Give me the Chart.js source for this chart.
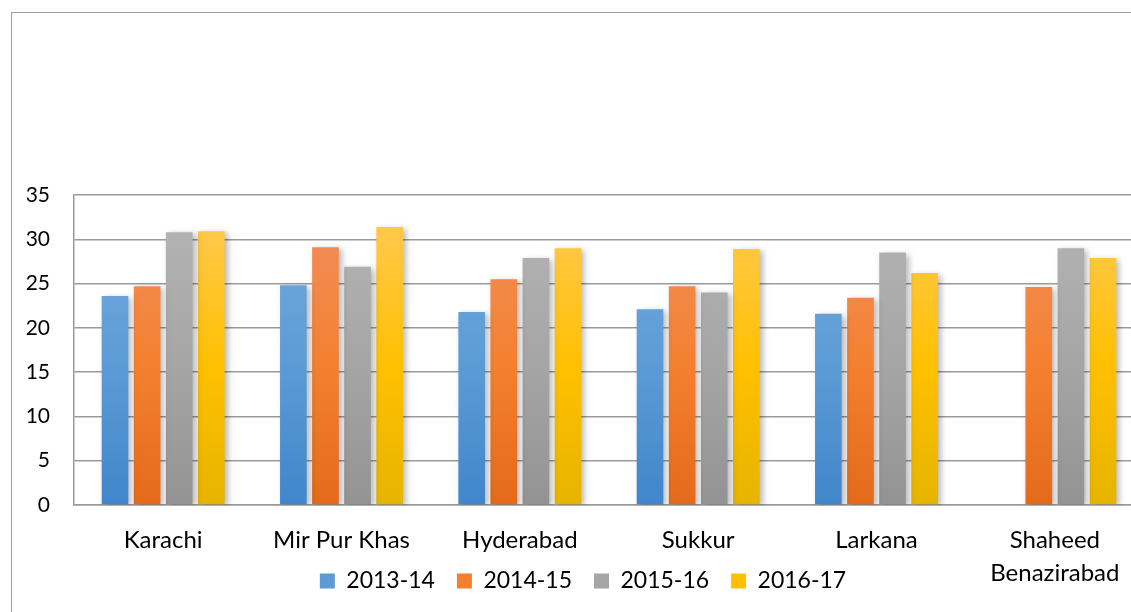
<!DOCTYPE html>
<html>
<head>
<meta charset="utf-8">
<script src="https://cdn.jsdelivr.net/npm/chart.js@4.4.1/dist/chart.umd.min.js"></script>
<style>
  html, body { margin: 0; padding: 0; background: #fff; overflow: hidden; }
  #frame { position: absolute; left: 11px; top: 12px; width: 1300px; height: 700px; border: 1px solid #a0a0a0; }
  #wrap { position: absolute; left: 0; top: 0; width: 1160px; height: 680px; }
</style>
</head>
<body>
<div id="frame"></div>
<div id="wrap"><canvas id="chart"></canvas></div>
<script>
// districts and yearly values
const districts = ["Karachi", "Mir Pur Khas", "Hyderabad", "Sukkur", "Larkana", ["Shaheed", "Benazirabad"]];
const years     = ["2013-14", "2014-15", "2015-16", "2016-17"];

const v2013 = [23.6, 24.8, 21.8, 22.1, 21.6, null];
const v2014 = [24.7, 29.1, 25.5, 24.7, 23.4, 24.6];
const v2015 = [30.8, 26.9, 27.9, 24.0, 28.5, 29.0];
const v2016 = [30.9, 31.4, 29.0, 28.9, 26.2, 27.9];

const yTicks = [0, 5, 10, 15, 20, 25, 30, 35];

// top / middle / bottom shades, Office style gradient
const shades = [
  ["#74a8dd", "#5b9bd5", "#4186cb"],
  ["#f18d58", "#f4802f", "#e36a1a"],
  ["#b2b2b2", "#a5a5a5", "#939393"],
  ["#ffc84a", "#ffc000", "#e6b400"]
];

const FONT = "Lato, 'Open Sans', sans-serif";
const LEGEND_PAD = 22;
const LEGEND_FONT = 23;

function grad(i) {
  return ctx => {
    const area = ctx.chart.chartArea;
    if (!area) return shades[i][1];
    const y = ctx.chart.scales.y;
    const g = ctx.chart.ctx.createLinearGradient(0, y.getPixelForValue(31), 0, y.getPixelForValue(0));
    g.addColorStop(0, shades[i][0]);
    g.addColorStop(0.5, shades[i][1]);
    g.addColorStop(1, shades[i][2]);
    return g;
  };
}

const series = [v2013, v2014, v2015, v2016];

const barShadow = {
  id: "barShadow",
  beforeDatasetsDraw(chart) {
    const c = chart.ctx;
    c.save();
    c.shadowColor = "rgba(0,0,0,0.28)";
    c.shadowBlur = 6;
    c.shadowOffsetX = 3;
    c.shadowOffsetY = 2;
  },
  afterDatasetsDraw(chart) {
    chart.ctx.restore();
  }
};

// Excel lets the legend overlap the 2nd line of the last label; pull it up
const legendUp = {
  id: "legendUp",
  afterLayout(chart) {
    const lg = chart.legend;
    const h = lg.bottom - lg.top;
    lg.top = 581 - LEGEND_PAD - LEGEND_FONT / 2;
    lg.bottom = lg.top + h;
    lg.left += 11;
    lg.right += 11;
  }
};

new Chart(document.getElementById("chart"), {
  type: "bar",
  data: {
    labels: districts,
    datasets: series.map((s, i) => ({
      label: years[i],
      data: s,
      backgroundColor: grad(i),
      borderWidth: 0,
      categoryPercentage: 0.72,
      barPercentage: 0.83
    }))
  },
  options: {
    responsive: true,
    maintainAspectRatio: false,
    animation: false,
    layout: { padding: { top: 195, right: 16, bottom: 30, left: 0 } },
    scales: {
      x: {
        grid: { display: false, drawTicks: false },
        border: { display: true, color: "#9a9a9a", width: 1.5 },
        ticks: {
          color: "#000",
          font: { family: FONT, size: 24, lineHeight: 1.375 },
          padding: 18.5,
          maxRotation: 0,
          autoSkip: false
        },
        afterFit: s => { s.height = 90; }
      },
      y: {
        min: 0,
        max: 35,
        afterBuildTicks: s => { s.ticks = yTicks.map(v => ({ value: v })); },
        grid: { color: "#9a9a9a", lineWidth: 1.5, drawTicks: false },
        border: { display: true, color: "#9a9a9a", width: 1.5 },
        ticks: {
          color: "#000",
          font: { family: FONT, size: 21 },
          padding: 24
        },
        afterFit: s => { s.width = 74; }
      }
    },
    plugins: {
      legend: {
        position: "bottom",
        labels: {
          color: "#000",
          font: { family: FONT, size: LEGEND_FONT },
          boxWidth: 15,
          boxHeight: 15,
          padding: LEGEND_PAD,
          generateLabels: chart => years.map((y, i) => ({
            text: y,
            fillStyle: shades[i][1],
            strokeStyle: shades[i][1],
            lineWidth: 0,
            datasetIndex: i
          }))
        }
      },
      tooltip: { enabled: false }
    }
  },
  plugins: [barShadow, legendUp]
});
</script>
</body>
</html>
